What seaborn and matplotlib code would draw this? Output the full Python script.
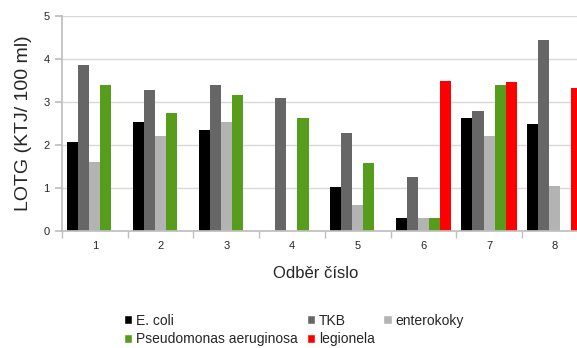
import numpy as np
import pandas as pd
import matplotlib
matplotlib.use("Agg")
import matplotlib.pyplot as plt
import seaborn as sns
from matplotlib.patches import Patch

samples = ["1", "2", "3", "4", "5", "6", "7", "8"]
series = ["E. coli", "TKB", "enterokoky", "Pseudomonas aeruginosa", "legionela"]
nan = np.nan
e_coli = [2.07, 2.53, 2.35, nan, 1.02, 0.31, 2.63, 2.50]
tkb = [3.85, 3.29, 3.40, 3.10, 2.29, 1.25, 2.80, 4.44]
enterokoky = [1.61, 2.20, 2.54, nan, 0.61, 0.31, 2.22, 1.05]
pseudomonas = [3.40, 2.74, 3.16, 2.63, 1.57, 0.31, 3.40, nan]
legionela = [nan, nan, nan, nan, nan, 3.50, 3.47, 3.32]
colors = ["#000000", "#666666", "#b3b3b3", "#579d1c", "#ff0000"]

values = [e_coli, tkb, enterokoky, pseudomonas, legionela]
rows = []
for name, vals in zip(series, values):
    for s, v in zip(samples, vals):
        rows.append({"odber": s, "druh": name, "hodnota": v})
df = pd.DataFrame(rows).dropna()

sns.set_theme(style="white")
plt.rcParams["font.family"] = ["Liberation Sans", "DejaVu Sans"]

fig = plt.figure(figsize=(5.77, 3.48), dpi=100)
W, H = 577, 348
ax = fig.add_axes([62 / W, (H - 231) / H, 525.6 / W, 215 / H])

sns.barplot(data=df, x="odber", y="hodnota", hue="druh", order=samples,
            hue_order=series, palette=colors, errorbar=None, width=0.84,
            saturation=1, linewidth=0, ax=ax, legend=False)

ax.set_xlim(-0.5, len(samples) - 0.5)
ax.set_ylim(0, 5)
ax.set_yticks(range(0, 6))
ax.yaxis.grid(True, color="#d9d9d9", linewidth=1)
ax.set_axisbelow(True)
for side in ["top", "right"]:
    ax.spines[side].set_visible(False)
ax.spines["left"].set_color("#bfbfbf")
ax.spines["bottom"].set_color("#bfbfbf")
ax.tick_params(axis="y", which="major", length=5, color="#bfbfbf",
               labelsize=8, pad=4, left=True)
ax.tick_params(axis="x", which="major", length=0, labelsize=8, pad=7)
ax.set_xticks(np.arange(-0.5, len(samples)), minor=True)
ax.tick_params(axis="x", which="minor", length=5, color="#bfbfbf", bottom=True)

ax.set_xlabel("Odběr číslo", fontsize=12)
ax.xaxis.set_label_coords((316 - 62) / 525.6, -(273 - 231) / 215, transform=ax.transAxes)
ax.xaxis.label.set_va("center")
ax.set_ylabel("LOTG (KTJ/ 100 ml)", fontsize=14, labelpad=8)

handles = [Patch(facecolor=c, label=n) for c, n in zip(colors, series)]
order = [0, 3, 1, 4, 2]
fig.legend([handles[i] for i in order], [series[i] for i in order],
           loc="center left", bbox_to_anchor=(124 / W, 1 - 330 / H),
           ncol=3, frameon=False, fontsize=10, handlelength=0.6,
           handleheight=0.6, handletextpad=0.3, columnspacing=0.6,
           labelspacing=0.35, borderaxespad=0, borderpad=0)

fig.savefig("out.png", dpi=100)
